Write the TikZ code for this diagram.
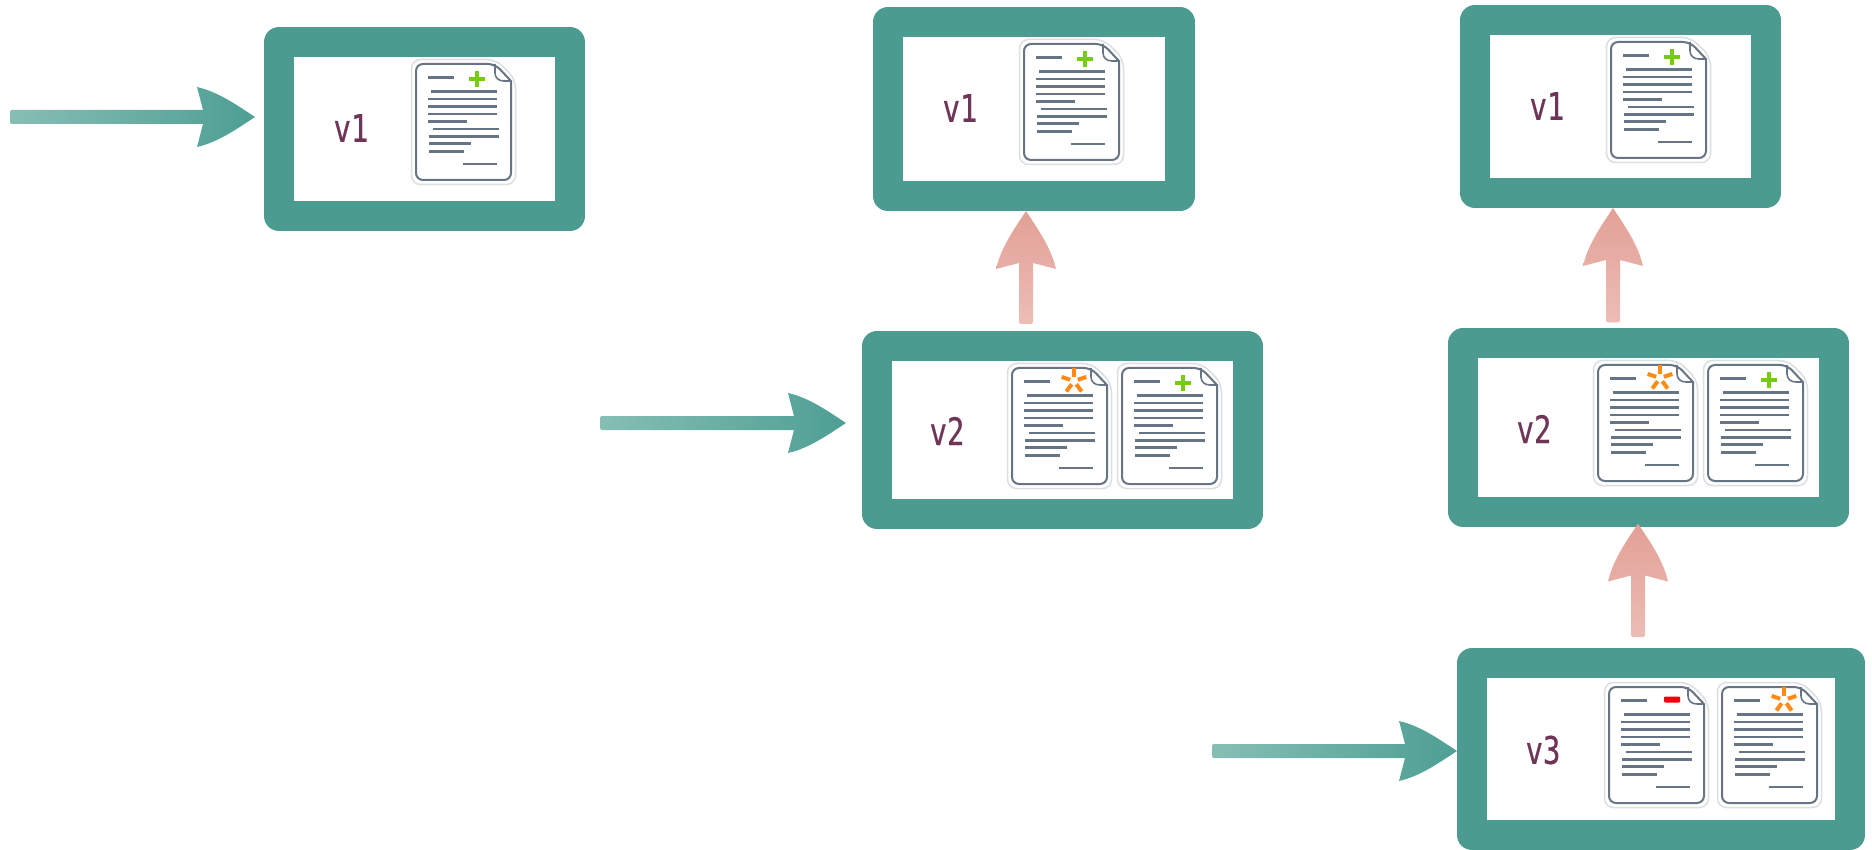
\documentclass[tikz,border=0pt]{standalone}
\usepackage{fontspec}
\usepackage{tikz}
\usetikzlibrary{calc}
\newfontfamily\versionfont[FakeStretch=0.76,FakeBold=0.5]{DejaVu Sans Mono}
\definecolor{frameteal}{HTML}{4B9B91}
\definecolor{feedlight}{HTML}{86BEB4}
\definecolor{feeddark}{HTML}{4E9F94}
\definecolor{linklight}{HTML}{EDBFB8}
\definecolor{linkdark}{HTML}{E2A096}
\definecolor{versionink}{HTML}{6F3558}
\definecolor{pageink}{HTML}{677483}
\definecolor{pagehalo}{HTML}{DCDFE2}
\tikzstyle{frame} = [draw=frameteal, fill=white, line width=30pt, line join=round, inner sep=0pt]
\tikzstyle{version} = [font={\versionfont\fontsize{38}{38}\selectfont}, text=versionink]
\tikzstyle{textline} = [draw=pageink, line width=2.6pt]
\tikzstyle{feed} = [left color=feedlight, right color=feeddark]
\tikzstyle{link} = [bottom color=linklight, top color=linkdark]
\tikzset{
  blockarrow/.style 2 args={to path={
    let \p1=(\tikztostart), \p2=(\tikztotarget),
        \n1={atan2(\y2-\y1,\x2-\x1)}, \n2={veclen(\x2-\x1,\y2-\y1)-#2} in
    {[shift={(\p1)},rotate=\n1]
      (\n2-52,7) [rounded corners=2pt] -- (#1,7) -- (#1,-7) [sharp corners] -- (\n2-52,-7)
      -- (\n2-58,-30) .. controls (\n2-36,-25) and (\n2-17,-11) .. (\n2,0)
      .. controls (\n2-17,11) and (\n2-36,25) .. (\n2-58,30) -- cycle}
  }},
  pics/docadd/.style={code={\docbody
    \draw[draw=addgreen, line width=3.8pt] (53,15) -- (69,15) (61,7) -- (61,23);}},
  pics/docedit/.style={code={\docbody
    \foreach \a in {-90,-18,-162,54,126}
      \draw[draw=editorange, line width=4pt] ($(62,13)+(\a:4)$) -- ($(62,13)+(\a:13)$);}},
  pics/docdel/.style={code={\docbody
    \fill[fill=delred, rounded corners=1pt] (55,9.5) rectangle (71,15.5);}}
}
\definecolor{addgreen}{HTML}{76CC12}
\definecolor{editorange}{HTML}{FF8A14}
\definecolor{delred}{HTML}{F5000F}
% one page of text, origin at its top left corner
\newcommand{\docbody}{
  \draw[draw=pagehalo, line width=1.5pt, rounded corners=9pt] (-4.5,-4.5) -- (80,-4.5) -- (99.5,15) -- (99.5,120.5) -- (-4.5,120.5) -- cycle;
  \draw[draw=pageink, fill=white, line width=2pt, rounded corners=7pt] (0,0) -- (79,0) [sharp corners] -- (95,17) [rounded corners=7pt] -- (95,116) -- (0,116) -- cycle;
  \draw[draw=pageink, line width=1.6pt] (79,0) -- (79,9) .. controls (79,14) and (83,17) .. (88,17) -- (95,17);
  \foreach \a/\b/\c in {12/38/13.7,14.7/81.3/27.7,11.7/81.3/35,11.7/81.3/42.3,11.7/81.3/50,
    11.7/50.7/57.7,16.7/83/65,13.3/83/72.3,13.3/55.3/79.7,13.3/47.7/87.7,46.7/81.3/100}
    \draw[textline] (\a,\c) -- (\b,\c);
}
\begin{document}
\begin{tikzpicture}[x=1pt,y=-1pt]
  \useasboundingbox (0,0) rectangle (1872,850);
  % left column
  \node[frame,minimum width=291pt,minimum height=174pt](boxA) at (424.5,129){};
  \node[version](labelA) at (351,128){v1};
  \pic at (416,64) {docadd};
  % middle column
  \node[frame,minimum width=292pt,minimum height=174pt](boxB) at (1034,109){};
  \node[version](labelB) at (960,108){v1};
  \pic at (1024,44) {docadd};
  \node[frame,minimum width=371pt,minimum height=168pt](boxC) at (1062.5,430){};
  \node[version](labelC) at (947,431){v2};
  \pic at (1012,368) {docedit};
  \pic at (1122,368) {docadd};
  % right column
  \node[frame,minimum width=291pt,minimum height=173pt](boxD) at (1620.5,106.5){};
  \node[version](labelD) at (1547,106){v1};
  \pic at (1611,42) {docadd};
  \node[frame,minimum width=371pt,minimum height=168pt](boxE) at (1648.5,427.5){};
  \node[version](labelE) at (1534,429){v2};
  \pic at (1598,365) {docedit};
  \pic at (1708,365) {docadd};
  \node[frame,minimum width=378pt,minimum height=172pt](boxF) at (1661,749){};
  \node[version](labelF) at (1543,750){v3};
  \pic at (1609,687) {docdel};
  \pic at (1722,687) {docedit};
  % arrows coming in
  \coordinate (feedA) at (10,117);
  \coordinate (feedB) at (600,423);
  \coordinate (feedC) at (1212,751);
  \shade[feed,blockarrow={0}{9}] (feedA) to (feedA -| boxA.west);
  \shade[feed,blockarrow={0}{16}] (feedB) to (feedB -| boxC.west);
  \shade[feed,blockarrow={0}{0}] (feedC) to (feedC -| boxF.west);
  % arrows between versions
  \coordinate (linkA) at (1026,0);
  \coordinate (linkB) at (1613,0);
  \coordinate (linkC) at (1638,0);
  \shade[link,blockarrow={7}{0}] (linkA |- boxC.north) to (linkA |- boxB.south);
  \shade[link,blockarrow={6}{0}] (linkB |- boxE.north) to (linkB |- boxD.south);
  \shade[link,blockarrow={11}{-3}] (linkC |- boxF.north) to (linkC |- boxE.south);
\end{tikzpicture}
\end{document}
